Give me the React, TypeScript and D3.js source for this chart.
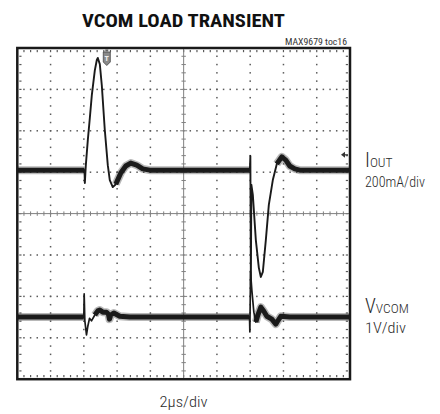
import React from 'react';
import * as d3 from 'd3';

const W = 440;
const H = 414;

// Scope screen: 10 horizontal divisions (time), 8 vertical divisions
const timeDomain: [number, number] = [0, 10];
const divDomain: [number, number] = [-4, 4];
const majorTime = [1, 2, 3, 4, 6, 7, 8, 9];
const majorDiv = [-3, -2, -1, 1, 2, 3];

// IOUT trace (time in divisions, amplitude in divisions)
const ioutTrace: [number, number][] = [
  [0, 1.05], [2.02, 1.05], [2.03, 0.74], [2.06, 1.17], [2.12, 1.78], [2.18, 2.31],
  [2.24, 2.86], [2.33, 3.46], [2.39, 3.71], [2.42, 3.76], [2.48, 3.61], [2.54, 3.1],
  [2.63, 2.02], [2.72, 1.17], [2.78, 0.81], [2.87, 0.64], [2.96, 0.71], [3.11, 0.98],
  [3.26, 1.15], [3.41, 1.22], [3.59, 1.17], [3.77, 1.08], [3.98, 1.05], [6.99, 1.05],
  [7.005, 1.39], [7.02, -1.72], [7.035, 0.7], [7.08, 0.45], [7.17, -0.64], [7.26, -1.31],
  [7.32, -1.53], [7.38, -1.41], [7.47, -0.64], [7.56, 0.21], [7.68, 0.81], [7.8, 1.2],
  [7.95, 1.37], [8.07, 1.29], [8.19, 1.15], [8.34, 1.08], [8.49, 1.05], [10, 1.05],
];

// VVCOM trace
const vvcomTrace: [number, number][] = [
  [0, -2.5], [2.0, -2.5], [2.01, -1.94], [2.03, -2.59], [2.08, -2.93], [2.12, -2.72],
  [2.17, -2.53], [2.23, -2.59], [2.33, -2.45], [2.42, -2.35], [2.48, -2.33], [2.57, -2.38],
  [2.68, -2.38], [2.74, -2.43], [2.77, -2.55], [2.81, -2.45], [2.9, -2.4], [3.08, -2.48],
  [3.38, -2.5], [6.98, -2.5], [6.99, -2.86], [7.01, -1.41], [7.05, -1.85], [7.11, -2.38],
  [7.17, -2.62], [7.23, -2.45], [7.32, -2.26], [7.41, -2.36], [7.5, -2.48], [7.65, -2.55],
  [7.77, -2.67], [7.83, -2.59], [7.92, -2.48], [8.19, -2.5], [10, -2.5],
];

// Regions where the trace shows its noise band
const ioutBands: [number, number][] = [[0, 2.02], [2.95, 6.99], [7.75, 10]];
const vvcomBands: [number, number][] = [[0, 2.0], [2.3, 6.98], [7.15, 10]];

const title = 'VCOM LOAD TRANSIENT';
const partNo = 'MAX9679 toc16';
const timeLabel = '2µs/div';
const ch1Label = { main: 'I', sub: 'OUT', scale: '200mA/div' };
const ch2Label = { main: 'V', sub: 'VCOM', scale: '1V/div' };
const triggerTime = 2.69;
const ch1Marker = 1.42;

const FONT = "'Liberation Sans Narrow', 'Arial Narrow', 'Roboto Condensed', 'DejaVu Sans Condensed', 'Liberation Sans', sans-serif";

export default function App() {
  const x = d3.scaleLinear().domain(timeDomain).range([17.3, 350]);
  const y = d3.scaleLinear().domain(divDomain).range([379.2, 48]);
  const minorT = d3.range(0, 50 + 1).map((i) => i * 0.2);
  const minorV = d3.range(0, 40 + 1).map((i) => -4 + i * 0.2);
  const line = d3
    .line<[number, number]>()
    .x((d) => x(d[0]))
    .y((d) => y(d[1]));

  const bandPaths = (trace: [number, number][], bands: [number, number][]) =>
    bands.map(([a, b]) => line(trace.filter((p) => p[0] >= a - 1e-9 && p[0] <= b + 1e-9)) || '');

  const dots: React.ReactNode[] = [];
  const dotColor = '#5a5a5a';
  // vertical dotted grid lines
  majorTime.forEach((t) => {
    minorV.slice(1, -1).forEach((v, k) => {
      dots.push(<rect key={`vt${t}-${k}`} x={x(t) - 0.75} y={y(v) - 0.75} width={1.5} height={1.5} fill={dotColor} />);
    });
  });
  // horizontal dotted grid lines
  majorDiv.forEach((v) => {
    minorT.slice(1, -1).forEach((t, k) => {
      dots.push(<rect key={`hv${v}-${k}`} x={x(t) - 0.75} y={y(v) - 0.75} width={1.5} height={1.5} fill={dotColor} />);
    });
  });
  // border inner ticks
  minorT.slice(1, -1).forEach((t, k) => {
    dots.push(<rect key={`bt${k}`} x={x(t) - 0.6} y={y(4) + 2} width={1.2} height={2.2} fill={dotColor} />);
    dots.push(<rect key={`bb${k}`} x={x(t) - 0.6} y={y(-4) - 4.2} width={1.2} height={2.2} fill={dotColor} />);
  });
  minorV.slice(1, -1).forEach((v, k) => {
    dots.push(<rect key={`bl${k}`} x={x(0) + 2} y={y(v) - 0.6} width={2.2} height={1.2} fill={dotColor} />);
    dots.push(<rect key={`br${k}`} x={x(10) - 4.2} y={y(v) - 0.6} width={2.2} height={1.2} fill={dotColor} />);
  });

  const axisColor = '#808080';
  const cx = x(5);
  const cy = y(0);

  const tx = x(triggerTime);
  const my = y(ch1Marker);
  const isMajor = (v: number) => Math.abs(v - Math.round(v)) < 1e-6;

  return (
    <svg width={W} height={H} style={{ position: 'absolute', left: 0, top: 0, background: '#fff' }}>
      <rect width={W} height={H} fill="#fff" />
      <text x={183.5} y={27} textAnchor="middle" fontFamily={FONT} fontWeight="bold" fontSize={19} fill="#111"
        textLength={203} lengthAdjust="spacingAndGlyphs">{title}</text>
      <text x={347} y={45} textAnchor="end" fontFamily={FONT} fontSize={9.5} fill="#333"
        textLength={62} lengthAdjust="spacingAndGlyphs">{partNo}</text>

      {dots}
      {/* center axes */}
      <line x1={x(0)} x2={x(10)} y1={cy} y2={cy} stroke={axisColor} strokeWidth={1} />
      <line x1={cx} x2={cx} y1={y(4)} y2={y(-4)} stroke={axisColor} strokeWidth={1} />
      {minorT.slice(1, -1).map((t, k) => (
        <line key={`ct${k}`} x1={x(t)} x2={x(t)} y1={cy - (isMajor(t) ? 3.5 : 2.2)} y2={cy + (isMajor(t) ? 3.5 : 2.2)} stroke={axisColor} strokeWidth={1} />
      ))}
      {minorV.slice(1, -1).map((v, k) => (
        <line key={`cv${k}`} y1={y(v)} y2={y(v)} x1={cx - (isMajor(v) ? 3.5 : 2.2)} x2={cx + (isMajor(v) ? 3.5 : 2.2)} stroke={axisColor} strokeWidth={1} />
      ))}

      {/* noise bands */}
      {[...bandPaths(ioutTrace, ioutBands), ...bandPaths(vvcomTrace, vvcomBands)].map((d, i) => (
        <g key={`band${i}`}>
          <path d={d} fill="none" stroke="#333" strokeOpacity={0.35} strokeWidth={8} strokeLinejoin="round" />
          <path d={d} fill="none" stroke="#1c1c1c" strokeWidth={5} strokeLinejoin="round" />
        </g>
      ))}
      {/* traces */}
      <path d={line(ioutTrace) || ''} fill="none" stroke="#1a1a1a" strokeWidth={1.9} strokeLinejoin="round" />
      <path d={line(vvcomTrace) || ''} fill="none" stroke="#1a1a1a" strokeWidth={1.7} strokeLinejoin="round" />

      {/* trigger marker */}
      <g>
        <rect x={tx - 1.5} y={49.5} width={3} height={2} fill="#666" />
        <path d={`M${tx - 3.5},52 L${tx + 3.5},52 L${tx + 3.5},62 L${tx},65.5 L${tx - 3.5},62 Z`} fill="#8a8a8a" stroke="#444" strokeWidth={0.8} />
        <text x={tx} y={61} textAnchor="middle" fontFamily={FONT} fontSize={8} fontWeight="bold" fill="#eee">T</text>
      </g>
      {/* channel 1 ground marker */}
      <path d={`M${x(10) - 9},${my} L${x(10) - 5},${my - 3} L${x(10) - 5},${my + 3} Z`} fill="#333" />
      <line x1={x(10) - 5} x2={x(10) - 2} y1={my} y2={my} stroke="#333" strokeWidth={1.2} />

      {/* frame */}
      <rect x={x(0)} y={y(4)} width={x(10) - x(0)} height={y(-4) - y(4)} fill="none" stroke="#1a1a1a" strokeWidth={2.5} />

      {/* channel labels */}
      <text x={365} y={167} fontFamily={FONT} fill="#2a2a2a" fontWeight={300}>
        <tspan fontSize={20}>{ch1Label.main}</tspan>
        <tspan fontSize={13.5}>{ch1Label.sub}</tspan>
      </text>
      <text x={365} y={187} fontFamily={FONT} fontWeight={300} fontSize={14.5} fill="#2a2a2a" textLength={60} lengthAdjust="spacingAndGlyphs">{ch1Label.scale}</text>
      <text x={365} y={313} fontFamily={FONT} fill="#2a2a2a" fontWeight={300}>
        <tspan fontSize={20}>{ch2Label.main}</tspan>
        <tspan fontSize={13.5}>{ch2Label.sub}</tspan>
      </text>
      <text x={365} y={333} fontFamily={FONT} fontWeight={300} fontSize={14.5} fill="#2a2a2a" textLength={41} lengthAdjust="spacingAndGlyphs">{ch2Label.scale}</text>
      <text x={183.5} y={407} textAnchor="middle" fontFamily={FONT} fontWeight={300} fontSize={14.5} fill="#2a2a2a" textLength={48} lengthAdjust="spacingAndGlyphs">{timeLabel}</text>
    </svg>
  );
}
